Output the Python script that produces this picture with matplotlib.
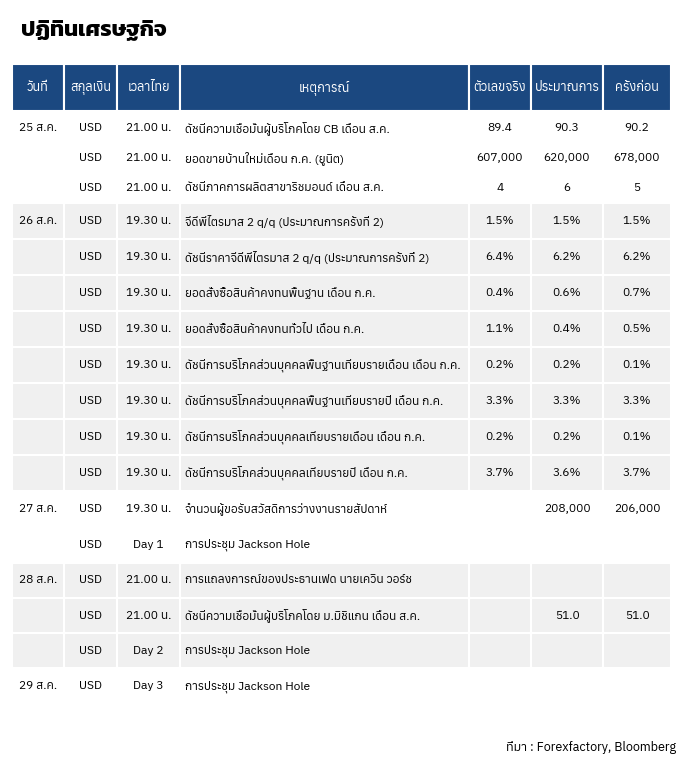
import matplotlib
matplotlib.use("Agg")
import matplotlib.pyplot as plt
from matplotlib.patches import Rectangle

plt.rcParams["font.family"] = ["Anuphan", "DejaVu Sans"]

title = "ปฏิทินเศรษฐกิจ"
source = "ที่มา : Forexfactory, Bloomberg"
headers = ["วันที่", "สกุลเงิน", "เวลาไทย", "เหตุการณ์", "ตัวเลขจริง", "ประมาณการ", "ครั้งก่อน"]

dates = ["25 ส.ค.", "", "", "26 ส.ค.", "", "", "", "", "", "", "",
         "27 ส.ค.", "", "28 ส.ค.", "", "", "29 ส.ค."]
group = [0, 0, 0, 1, 1, 1, 1, 1, 1, 1, 1, 2, 2, 3, 3, 3, 4]
currency = ["USD"] * 17
times_th = ["21.00 น.", "21.00 น.", "21.00 น.",
            "19.30 น.", "19.30 น.", "19.30 น.", "19.30 น.", "19.30 น.", "19.30 น.", "19.30 น.", "19.30 น.",
            "19.30 น.", "Day 1", "21.00 น.", "21.00 น.", "Day 2", "Day 3"]
events = [
    "ดัชนีความเชื่อมั่นผู้บริโภคโดย CB เดือน ส.ค.",
    "ยอดขายบ้านใหม่เดือน ก.ค. (ยูนิต)",
    "ดัชนีภาคการผลิตสาขาริชมอนด์ เดือน ส.ค.",
    "จีดีพีไตรมาส 2 q/q (ประมาณการครั้งที่ 2)",
    "ดัชนีราคาจีดีพีไตรมาส 2 q/q (ประมาณการครั้งที่ 2)",
    "ยอดสั่งซื้อสินค้าคงทนพื้นฐาน เดือน ก.ค.",
    "ยอดสั่งซื้อสินค้าคงทนทั่วไป เดือน ก.ค.",
    "ดัชนีการบริโภคส่วนบุคคลพื้นฐานเทียบรายเดือน เดือน ก.ค.",
    "ดัชนีการบริโภคส่วนบุคคลพื้นฐานเทียบรายปี เดือน ก.ค.",
    "ดัชนีการบริโภคส่วนบุคคลเทียบรายเดือน เดือน ก.ค.",
    "ดัชนีการบริโภคส่วนบุคคลเทียบรายปี เดือน ก.ค.",
    "จำนวนผู้ขอรับสวัสดิการว่างงานรายสัปดาห์",
    "การประชุม Jackson Hole",
    "การแถลงการณ์ของประธานเฟด นายเควิน วอร์ช",
    "ดัชนีความเชื่อมั่นผู้บริโภคโดย ม.มิชิแกน เดือน ส.ค.",
    "การประชุม Jackson Hole",
    "การประชุม Jackson Hole",
]
actual = ["89.4", "607,000", "4", "1.5%", "6.4%", "0.4%", "1.1%", "0.2%", "3.3%", "0.2%", "3.7%",
          "", "", "", "", "", ""]
forecast = ["90.3", "620,000", "6", "1.5%", "6.2%", "0.6%", "0.4%", "0.2%", "3.3%", "0.2%", "3.6%",
            "208,000", "", "", "51.0", "", ""]
previous = ["90.2", "678,000", "5", "1.5%", "6.2%", "0.7%", "0.5%", "0.1%", "3.3%", "0.1%", "3.7%",
            "206,000", "", "", "51.0", "", ""]

col_edges = [12, 64, 117, 180.5, 469, 531, 603, 671]
row_h = [30.3] * 3 + [35.9] * 8 + [36] * 2 + [35.3] * 3 + [36]
head_top, head_bot = 64, 111
blue = "#1b4880"
gray = "#f0f0f0"

fig = plt.figure(figsize=(6.85, 7.71), dpi=100)
ax = fig.add_axes([0, 0, 1, 1])
ax.set_xlim(0, 685)
ax.set_ylim(771, 0)
ax.axis("off")

ax.text(21, 31, title, fontsize=16, fontweight="bold", va="center", ha="left",
        family=["Kanit", "Anuphan", "DejaVu Sans"])

for i, h in enumerate(headers):
    x0, x1 = col_edges[i], col_edges[i + 1]
    ax.add_patch(Rectangle((x0, head_top), x1 - x0, head_bot - head_top,
                           facecolor=blue, edgecolor="white", lw=1.5))
    ax.text((x0 + x1) / 2, (head_top + head_bot) / 2, h, color="white",
            fontsize=9.2, ha="center", va="center")

y = head_bot + 1.5
for r in range(len(events)):
    h = row_h[r]
    fc = gray if group[r] % 2 == 1 else "white"
    for i in range(7):
        x0, x1 = col_edges[i], col_edges[i + 1]
        ax.add_patch(Rectangle((x0, y), x1 - x0, h, facecolor=fc, edgecolor="white", lw=1.5))
    yc = y + h / 2
    vals = [dates[r], currency[r], times_th[r], events[r], actual[r], forecast[r], previous[r]]
    for i, v in enumerate(vals):
        if i == 3:
            ax.text(col_edges[3] + 4.5, yc, v, fontsize=8.6, ha="left", va="center")
        else:
            ax.text((col_edges[i] + col_edges[i + 1]) / 2, yc, v, fontsize=8.6,
                    ha="center", va="center")
    y += h

ax.text(676, 748, source, fontsize=9, ha="right", va="center")

fig.savefig("out.png", dpi=100)
